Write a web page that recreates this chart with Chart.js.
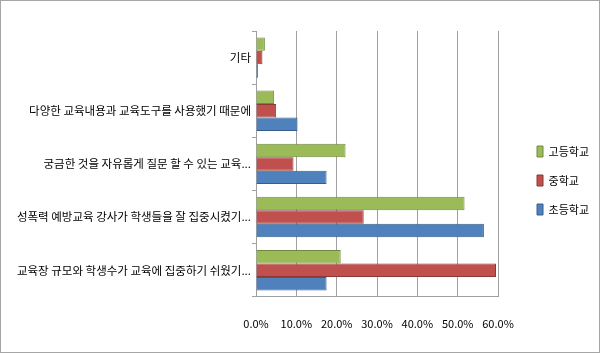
<!DOCTYPE html>
<html>
<head>
<meta charset="utf-8">
<script src="https://cdn.jsdelivr.net/npm/chart.js@4"></script>
<style>
  html, body { margin: 0; padding: 0; background: #fff; }
  #wrap { position: relative; width: 598px; height: 351px; border: 1px solid #a6a6a6; }
  canvas { display: block; }
</style>
</head>
<body>
<div id="wrap"><canvas id="grafico" width="598" height="351"></canvas></div>
<script>
const categorias = [
  "기타",
  "다양한 교육내용과 교육도구를 사용했기 때문에",
  "궁금한 것을 자유롭게 질문 할 수 있는 교육...",
  "성폭력 예방교육 강사가 학생들을 잘 집중시켰기...",
  "교육장 규모와 학생수가 교육에 집중하기 쉬웠기..."
];
const gogeung = [2.2, 4.5, 22.2, 51.7, 21.0];
const junghak = [1.6, 5.0, 9.3, 26.7, 59.5];
const chodeung = [0.5, 10.3, 17.5, 56.5, 17.5];
const xTicks = [0, 10, 20, 30, 40, 50, 60];

const fuente = "'Noto Sans CJK KR', 'Noto Sans', sans-serif";

let canvasGrafico = document.getElementById("grafico");

var datosGo = {
  label: "고등학교",
  data: gogeung,
  backgroundColor: "#9BBB59",
  borderColor: "#71893F",
  borderWidth: 1,
};

var datosJung = {
  label: "중학교",
  data: junghak,
  backgroundColor: "#C0504D",
  borderColor: "#8C3836",
  borderWidth: 1,
};

var datosCho = {
  label: "초등학교",
  data: chodeung,
  backgroundColor: "#4F81BD",
  borderColor: "#385D8A",
  borderWidth: 1,
};

// push the legend a bit to the right and up
var moverLeyenda = {
  id: "moverLeyenda",
  afterLayout: (chart) => {
    chart.legend.left += 21;
    chart.legend.right += 21;
    chart.legend.top -= 10;
    chart.legend.bottom -= 10;
  },
};

var chartOptions = {
  indexAxis: "y",
  responsive: false,
  animation: false,
  layout: {
    padding: { top: 30, bottom: 2, left: 0, right: 21 },
  },
  plugins: {
    legend: {
      display: true,
      position: "right",
      labels: {
        boxWidth: 6,
        boxHeight: 11,
        padding: 18,
        color: "#000",
        font: { family: fuente, size: 11 },
      },
    },
    tooltip: { enabled: false },
  },
  scales: {
    x: {
      min: 0,
      max: 60,
      afterBuildTicks: (scale) => {
        scale.ticks = xTicks.map((v) => ({ value: v }));
      },
      grid: { color: "#a0a0a0", drawTicks: false },
      border: { color: "#a0a0a0" },
      ticks: {
        padding: 20,
        maxRotation: 0,
        color: "#000",
        font: { family: fuente, size: 11 },
        callback: (v) => Number(v).toFixed(1) + "%",
      },
    },
    y: {
      afterFit: (scale) => {
        scale.width = 255;
      },
      grid: { offset: true, drawOnChartArea: false, color: "#a0a0a0", tickLength: 4 },
      border: { color: "#a0a0a0" },
      ticks: {
        color: "#000",
        padding: 1,
        font: { family: fuente, size: 11.5 },
      },
    },
  },
  datasets: {
    bar: { categoryPercentage: 0.76, barPercentage: 1.0 },
  },
};

var grafico = new Chart(canvasGrafico, {
  type: "bar",
  data: {
    labels: categorias,
    datasets: [datosGo, datosJung, datosCho],
  },
  options: chartOptions,
  plugins: [moverLeyenda],
});
</script>
</body>
</html>
